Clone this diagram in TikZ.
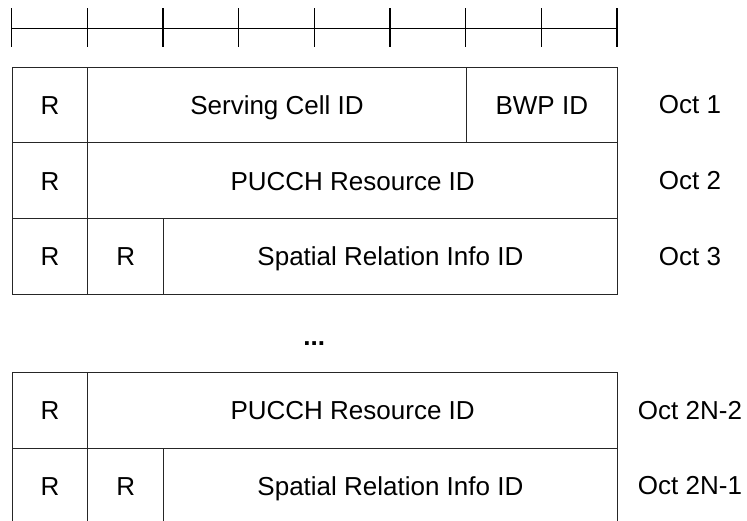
\documentclass[tikz,border=0pt]{standalone}
\usepackage{fontspec}
\setmainfont{Liberation Sans}
\begin{document}
\begin{tikzpicture}[x=1pt,y=-1pt,
  cell/.style={draw=black!85, line width=0.9pt, anchor=north west, inner sep=0pt,
    minimum height=75.7pt, text height=18.6pt, text depth=0pt,
    font=\fontsize{26pt}{30pt}\selectfont},
  octlabel/.style={inner sep=0pt, text height=18.6pt, text depth=0pt,
    font=\fontsize{26pt}{30pt}\selectfont},
  tickln/.style={line width=1.5pt, black},
  ruler/.style={line width=1pt, black}]
\useasboundingbox (0,0) rectangle (747,520);
\clip (0,0) rectangle (747,520);
\def\bw{75.66}
% ruler
\coordinate (rl) at (11.7,28.3);
\coordinate (rr) at (617.0,28.3);
\draw[ruler] (rl) -- (rr);
\foreach \k in {0,...,8}{
  \coordinate (t\k a) at ({11.7+\k*\bw},8.3);
  \coordinate (t\k b) at ({11.7+\k*\bw},46.7);
  \draw[tickln] (t\k a) -- (t\k b);
}
% Oct 1
\node[cell, minimum width=\bw pt] (r1a) at (11.7,66.7) {R};
\node[cell, minimum width=5*\bw pt] (r1b) at (87.4,66.7) {Serving Cell ID};
\node[cell, minimum width=2*\bw pt] (r1c) at (465.7,66.7) {BWP ID};
\node[octlabel] (o1) at (690,104.5) {Oct 1};
% Oct 2
\node[cell, minimum width=\bw pt] (r2a) at (11.7,142.4) {R};
\node[cell, minimum width=7*\bw pt] (r2b) at (87.4,142.4) {PUCCH Resource ID};
\node[octlabel] (o2) at (690,180.2) {Oct 2};
% Oct 3
\node[cell, minimum width=\bw pt] (r3a) at (11.7,218.1) {R};
\node[cell, minimum width=\bw pt] (r3b) at (87.4,218.1) {R};
\node[cell, minimum width=6*\bw pt] (r3c) at (163.0,218.1) {Spatial Relation Info ID};
\node[octlabel] (o3) at (690,255.9) {Oct 3};
% dots
\node[inner sep=0pt, anchor=base, font=\fontsize{26pt}{30pt}\selectfont] (dots) at (314.3,345) {\textbf{...}};
% Oct 2N-2
\node[cell, minimum width=\bw pt] (r4a) at (11.7,372) {R};
\node[cell, minimum width=7*\bw pt] (r4b) at (87.4,372) {PUCCH Resource ID};
\node[octlabel] (o4) at (690,409.9) {Oct 2N-2};
% Oct 2N-1
\node[cell, minimum width=\bw pt] (r5a) at (11.7,447.7) {R};
\node[cell, minimum width=\bw pt] (r5b) at (87.4,447.7) {R};
\node[cell, minimum width=6*\bw pt] (r5c) at (163.0,447.7) {Spatial Relation Info ID};
\node[octlabel] (o5) at (690,485.5) {Oct 2N-1};
\end{tikzpicture}
\end{document}
